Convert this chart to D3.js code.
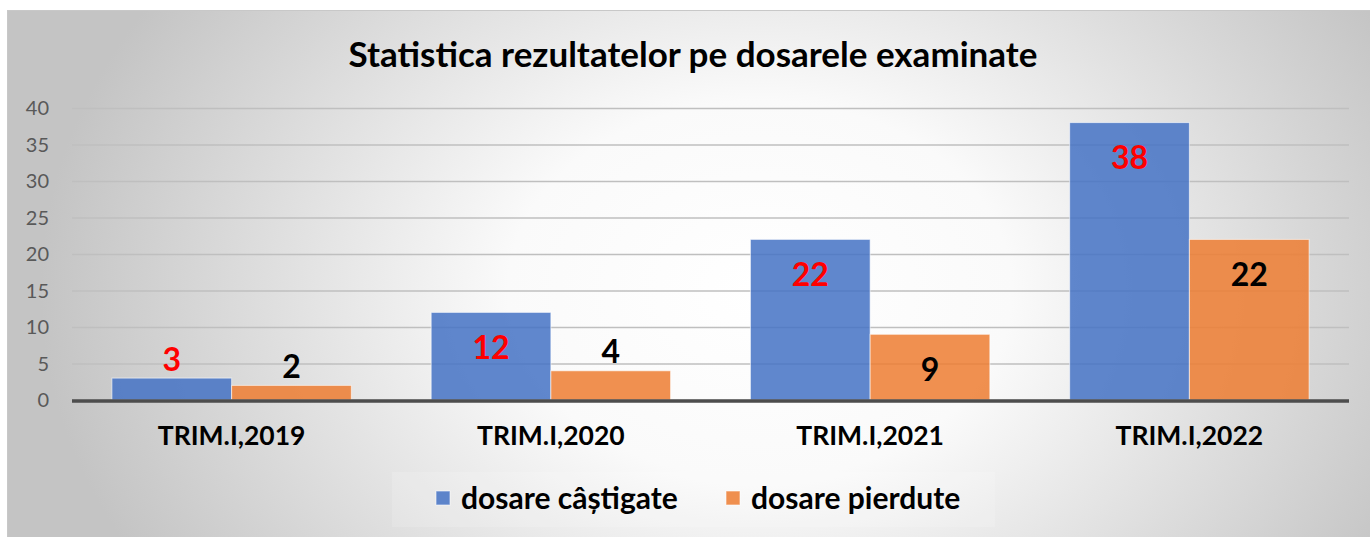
<!DOCTYPE html>
<html>
<head>
<meta charset="utf-8">
<script src="https://cdn.jsdelivr.net/npm/d3@7"></script>
<style>
  body { margin: 0; background: #fff; }
  svg text { font-family: Lato, "Open Sans", sans-serif; }
  .yTick text { fill: #595959; font-size: 20px; }
  .xTick text { font-size: 26.5px; font-weight: bold; fill: #000; }
  .titleText { font-size: 35px; font-weight: bold; fill: #000; }
  .legendText { font-size: 30px; font-weight: bold; fill: #000; }
  .valueText { font-size: 32px; font-weight: bold; }
</style>
</head>
<body>
<div id="chart"></div>
<script>
"use strict";

let categories = ["TRIM.I,2019", "TRIM.I,2020", "TRIM.I,2021", "TRIM.I,2022"];
let seriesNames = ["dosare câștigate", "dosare pierdute"];
let won = [3, 12, 22, 38];
let lost = [2, 4, 9, 22];
let yTicks = [0, 5, 10, 15, 20, 25, 30, 35, 40];

let width = 1370;
let height = 537;

let colors = ["#4472c4", "#ed7d31"];
let labelColors = ["#ff0000", "#000000"];

let svg = d3.select("#chart").append("svg")
  .attr("width", width)
  .attr("height", height)
  .attr("viewBox", [0, 0, width, height].join(" "));

let defs = svg.append("defs");
let grad = defs.append("radialGradient")
  .attr("id", "bgGrad")
  .attr("gradientUnits", "userSpaceOnUse")
  .attr("cx", 760).attr("cy", 290).attr("r", 720)
  .attr("gradientTransform", "translate(760,290) scale(1,0.75) translate(-760,-290)");
grad.append("stop").attr("offset", "0%").attr("stop-color", "#ffffff");
grad.append("stop").attr("offset", "35%").attr("stop-color", "#fafafa");
grad.append("stop").attr("offset", "100%").attr("stop-color", "#c4c4c4");

// chart area background
svg.append("rect")
  .attr("x", 7.5)
  .attr("y", 10.5)
  .attr("width", width - 7)
  .attr("height", height - 10)
  .attr("fill", "url(#bgGrad)")
  .attr("stroke", "#c8c8c8")
  .attr("stroke-width", 1);

let margin = { left: 72, right: 21, top: 108, bottom: 137 };

let x0 = d3.scaleBand()
  .domain(categories)
  .range([margin.left, width - margin.right])
  .paddingInner(0.25)
  .paddingOuter(0.125);

let x1 = d3.scaleBand()
  .domain([0, 1])
  .range([0, x0.bandwidth()]);

let y = d3.scaleLinear()
  .domain([0, 40])
  .range([height - margin.bottom, margin.top]);

// gridlines + y axis labels
let yAxis = d3.axisLeft(y)
  .tickValues(yTicks)
  .tickSize(-(width - margin.left - margin.right))
  .tickPadding(23);

let yG = svg.append("g")
  .attr("class", "yTick")
  .attr("transform", `translate(${margin.left},0)`)
  .call(yAxis);
yG.select(".domain").remove();
yG.selectAll(".tick line")
  .attr("stroke", "#bfbfbf")
  .attr("stroke-width", 1.5);
yG.selectAll(".tick text").attr("dy", "0.34em");

// bars
let seriesData = [won, lost];
let barData = [];
categories.forEach(function(c, i) {
  seriesData.forEach(function(s, k) {
    barData.push({ cat: c, series: k, value: s[i] });
  });
});

svg.append("g").selectAll("rect")
  .data(barData)
  .enter().append("rect")
  .attr("x", d => x0(d.cat) + x1(d.series))
  .attr("y", d => y(d.value))
  .attr("width", x1.bandwidth())
  .attr("height", d => y(0) - y(d.value))
  .attr("fill", d => colors[d.series])
  .attr("fill-opacity", 0.85)
  .attr("stroke", "#ffffff")
  .attr("stroke-opacity", 0.6)
  .attr("stroke-width", 1);

// category axis
let xAxis = d3.axisBottom(x0).tickSize(0).tickPadding(26);
let xG = svg.append("g")
  .attr("class", "xTick")
  .attr("transform", `translate(0,${y(0)})`)
  .call(xAxis);
xG.select(".domain").remove();
xG.selectAll(".tick text").attr("dy", "0.7em");

svg.append("line")
  .attr("x1", margin.left)
  .attr("x2", width - margin.right)
  .attr("y1", y(0) + 1)
  .attr("y2", y(0) + 1)
  .attr("stroke", "#4d4d4d")
  .attr("stroke-width", 3.5);

// value labels
svg.append("g").selectAll("text")
  .data(barData)
  .enter().append("text")
  .attr("class", "valueText")
  .attr("x", d => x0(d.cat) + x1(d.series) + x1.bandwidth() / 2)
  .attr("y", function(d) {
    let barH = y(0) - y(d.value);
    return barH > 50 ? y(d.value) + 35 : y(d.value) - 19;
  })
  .attr("dy", "0.36em")
  .attr("text-anchor", "middle")
  .attr("fill", d => labelColors[d.series])
  .text(d => d.value);

// title
svg.append("text")
  .attr("class", "titleText")
  .attr("x", 693)
  .attr("y", 55)
  .attr("dy", "0.35em")
  .attr("text-anchor", "middle")
  .text("Statistica rezultatelor pe dosarele examinate");

// legend
svg.append("rect")
  .attr("x", 392)
  .attr("y", 472)
  .attr("width", 603)
  .attr("height", 55)
  .attr("fill", "#ffffff")
  .attr("fill-opacity", 0.15);

let legendX = [436, 726];
let legend = svg.append("g").selectAll("g")
  .data(seriesNames)
  .enter().append("g")
  .attr("transform", (d, i) => `translate(${legendX[i]}, 498)`);

legend.append("rect")
  .attr("x", 0)
  .attr("y", -7)
  .attr("width", 14)
  .attr("height", 14)
  .attr("fill", (d, i) => colors[i])
  .attr("fill-opacity", 0.85)
  .attr("stroke", "#ffffff")
  .attr("stroke-opacity", 0.6);

legend.append("text")
  .attr("class", "legendText")
  .attr("x", 25)
  .attr("y", 0)
  .attr("dy", "0.35em")
  .text(d => d);
</script>
</body>
</html>
